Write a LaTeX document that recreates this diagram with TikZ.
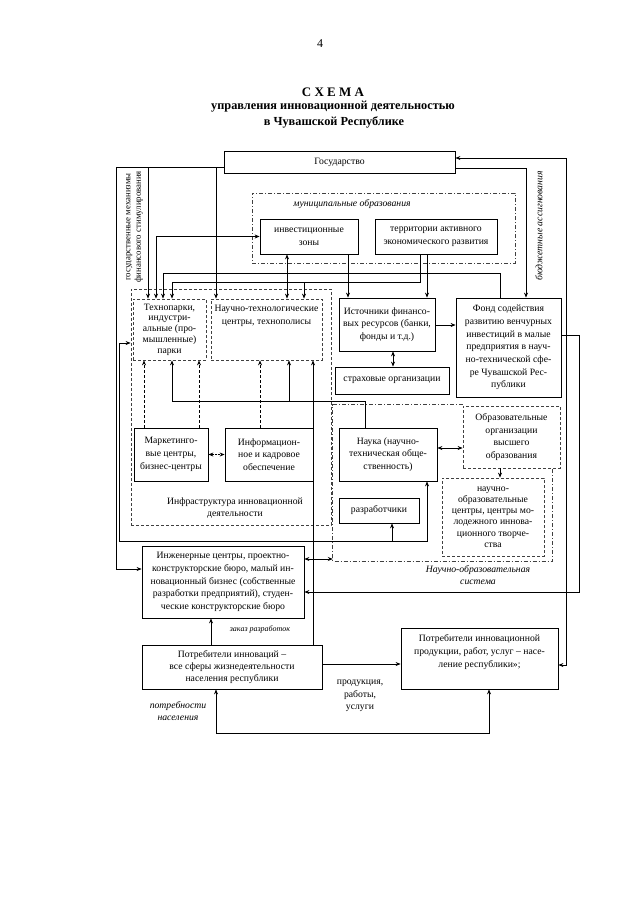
\documentclass[tikz,border=0pt]{standalone}
\usepackage{fontspec}
\setmainfont{Liberation Serif}
\usetikzlibrary{arrows.meta}
\newcommand\fs{\fontsize{9.7}{12.7}\selectfont}
\tikzset{
  ln/.style={line width=0.7pt, draw=black},
  bx/.style={draw=black, line width=0.8pt, align=center, inner sep=1pt, font=\fs},
  dbx/.style={bx, draw=black!75, dash pattern=on 3pt off 2pt},
  ddbx/.style={bx, draw=black!75, dash pattern=on 4pt off 2pt on 1pt off 2pt},
  lbl/.style={align=center, inner sep=0pt, font=\fs},
  ilbl/.style={align=center, inner sep=0pt, font=\fs\itshape},
  >={Stealth[length=5pt,width=4pt]}
}
\begin{document}
\begin{tikzpicture}[x=1pt,y=-1pt]
\useasboundingbox[fill=white] (0,0) rectangle (640,905);

% title
\node[lbl, font=\fontsize{12}{14}\selectfont] (pg) at (320,44) {4};
\node[lbl, font=\bfseries\fontsize{13}{15}\selectfont] (t1) at (333,92) {С Х Е М А};
\node[lbl, font=\bfseries\fontsize{12.3}{15}\selectfont] (t2) at (333,107) {управления инновационной деятельностью};
\node[lbl, font=\bfseries\fontsize{12.3}{15}\selectfont] (t3) at (334,122) {в Чувашской Республике};

% boxes
\node[bx, minimum width=231pt, minimum height=22pt] (gos) at (339.5,162) {Государство};
\node[ddbx, minimum width=263pt, minimum height=70pt] (mun) at (383.5,228) {};
\node[ilbl] (munl) at (352,204) {муниципальные образования};
\node[bx, minimum width=98pt, minimum height=35pt] (inv) at (309,236.5) {инвестиционные\\зоны};
\node[bx, minimum width=122pt, minimum height=35pt] (terr) at (436,236.5) {территории активного\\экономического развития};

\node[dbx, minimum width=200pt, minimum height=236pt] (infra) at (231,407) {};
\node[dbx, minimum width=73pt, minimum height=61pt, font=\fontsize{9.7}{10.8}\selectfont] (tech) at (169.5,329.5) {Технопарки,\\индустри-\\альные (про-\\мышленные)\\парки};
\node[dbx, minimum width=111pt, minimum height=61pt] (ntc) at (266.5,329.5) {};
\node[lbl] (ntcl) at (266.5,316) {Научно-технологические\\центры, технополисы};
\node[bx, minimum width=74pt, minimum height=53pt] (mark) at (171,454.5) {Маркетинго-\\вые центры,\\бизнес-центры};
\node[bx, minimum width=88pt, minimum height=53pt] (info) at (269,454.5) {Информацион-\\ное и кадровое\\обеспечение};
\node[lbl] (infral) at (235,508) {Инфраструктура инновационной\\деятельности};

\node[bx, minimum width=96pt, minimum height=53pt] (ist) at (387,324.5) {Источники финансо-\\вых ресурсов (банки,\\фонды и т.д.)};
\node[bx, minimum width=105pt, minimum height=99pt] (fond) at (508.5,347.5) {Фонд содействия\\развитию венчурных\\инвестиций в малые\\предприятия в науч-\\но-технической сфе-\\ре Чувашской Рес-\\публики};
\node[bx, minimum width=114pt, minimum height=27pt] (strah) at (392,380.5) {страховые организации};

\node[draw=none, minimum width=219pt, minimum height=156pt, inner sep=0pt] (nos) at (442.5,483) {};
\node[bx, minimum width=98pt, minimum height=53pt] (nauka) at (388,454.5) {Наука (научно-\\техническая обще-\\ственность)};
\node[dbx, minimum width=97pt, minimum height=62pt] (obr) at (511.5,437) {Образовательные\\организации\\высшего\\образования};
\node[dbx, minimum width=102pt, minimum height=78pt, font=\fontsize{9.7}{11.2}\selectfont] (noc) at (493,517) {научно-\\образовательные\\центры, центры мо-\\лодежного иннова-\\ционного творче-\\ства};
\node[bx, minimum width=80pt, minimum height=25pt] (razr) at (379,510.5) {разработчики};
\draw[ln, draw=black!75, dash pattern=on 4pt off 2pt on 1pt off 2pt] (obr.west |- nos.north) -- (nos.north west) -- (nos.south west) -- (nos.south east) -- (nos.east |- obr.south);
\node[ilbl] (nosl) at (478,575) {Научно-образовательная\\система};

\node[bx, minimum width=162pt, minimum height=72pt] (ing) at (223,582) {Инженерные центры, проектно-\\конструкторские бюро, малый ин-\\новационный бизнес (собственные\\разработки предприятий), студен-\\ческие конструкторские бюро};
\node[ilbl, font=\fontsize{8}{10}\selectfont\itshape] (zak) at (260,629) {заказ разработок};
\node[bx, minimum width=180pt, minimum height=44pt, font=\fontsize{9.7}{11.7}\selectfont] (potr1) at (232,667) {Потребители инноваций –\\все сферы жизнедеятельности\\населения республики};
\node[bx, minimum width=157pt, minimum height=61pt] (potr2) at (479.5,658.5) {};
\node[lbl] (potr2l) at (479.5,652) {Потребители инновационной\\продукции, работ, услуг – насе-\\ление республики»;};
\node[lbl] (prod) at (360,696) {продукция,\\работы,\\услуги};
\node[ilbl] (potrn) at (178,711) {потребности\\населения};

\node[lbl, rotate=90, font=\fontsize{8.8}{10.3}\selectfont] (gosmech) at (134.5,227) {государственные механизмы\\финансового стимулирования};
\node[ilbl, rotate=90] (budg) at (539,226) {бюджетные ассигнования};

% connectors from Gosudarstvo
\draw[ln,->] (gos.west |- 0,167) -- (116,167) -- (116,569) -- (ing.west |- 0,569);
\draw[ln,->] (148,167) -- (tech.north -| 148,0);
\draw[ln,->] (216,167) -- (ntc.north -| 216,0);
\draw[ln,<->] (gos.east |- 0,158) -- (566,158) -- (566,665) -- (potr2.east |- 0,665);
\draw[ln,->] (gos.east |- 0,168) -- (526,168) -- (fond.north -| 526,0);
\draw[ln,->] (fond.east |- 0,335) -- (579,335) -- (579,592) -- (ing.east |- 0,592);

% municipal
\draw[ln,<->] (tech.north -| 156,0) |- (inv.west);
\draw[ln,<->] (inv.south -| 287,0) -- (ntc.north -| 287,0);
\draw[ln,->] (inv.south -| 348,0) -- (ist.north -| 348,0);
\draw[ln,->] (terr.south -| 427,0) -- (ist.north -| 427,0);
\draw[ln] (terr.south -| 420,0) -- (420,282) -- (172,282);
\draw[ln,->] (172,282) -- (tech.north -| 172,0);
\draw[ln,->] (304,282) -- (ntc.north -| 304,0);
\draw[ln,->] (fond.north -| 500,0) |- (163,273) -- (tech.north -| 163,0);

% science to infrastructure
\draw[ln] (nauka.north -| 365,0) |- (172,401);
\draw[ln,->] (172,401) -- (tech.south -| 172,0);
\draw[ln,->] (289,401) -- (ntc.south -| 289,0);
\draw[ln,->] (potr1.north -| 313,0) -- (ntc.south -| 313,0);
\draw[ln,->,dash pattern=on 3pt off 2pt] (mark.north -| 144,0) -- (tech.south -| 144,0);
\draw[ln,->,dash pattern=on 3pt off 2pt] (mark.north -| 199,0) -- (tech.south -| 199,0);
\draw[ln,->,dash pattern=on 3pt off 2pt] (info.north -| 260,0) -- (ntc.south -| 260,0);
\draw[ln,<->,dash pattern=on 2pt off 1pt] (mark.east) -- (info.west);

% inner left line
\draw[ln,->] (119,541) |- (infra.west |- 0,343);
\draw[ln,->] (119,541) -| (nauka.south -| 427,0);
\draw[ln,->] (392,541) -- (razr.south -| 392,0);

% finance
\draw[ln,->] (ist.east |- 0,325) -- (fond.west |- 0,325);
\draw[ln,<->] (ist.south -| 393,0) -- (strah.north -| 393,0);

% science system
\draw[ln,<->] (nauka.east |- 0,448) -- (obr.west |- 0,448);
\draw[ln,->] (obr.south -| 500,0) -- (noc.north -| 500,0);
\draw[ln,<->] (ing.east |- 0,559) -- (nos.west |- 0,559);

% consumers
\draw[ln,->] (potr1.north -| 211,0) -- (ing.south -| 211,0);
\draw[ln,->] (potr1.east |- 0,664) -- (potr2.west |- 0,664);
\draw[ln,<->] (potr1.south -| 216,0) -- (216,733) -- (489,733) -- (potr2.south -| 489,0);
\end{tikzpicture}
\end{document}
